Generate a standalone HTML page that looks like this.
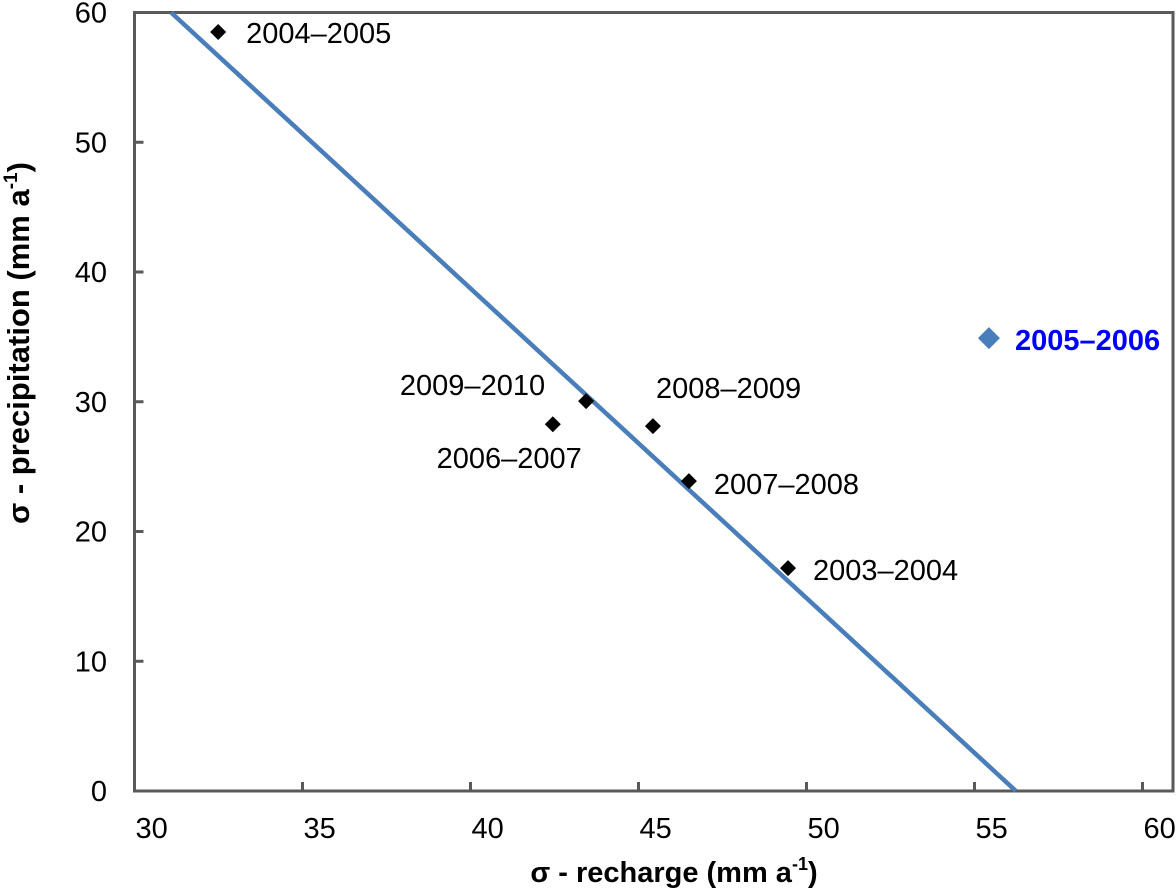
<!DOCTYPE html>
<html><head><meta charset="utf-8"><style>
html,body{margin:0;padding:0;background:#fff}
svg text{font-family:"Liberation Sans",Arial,sans-serif}
</style></head><body>
<svg id="chart" width="1176" height="889" xmlns="http://www.w3.org/2000/svg"></svg>
<script>
const xTicks=[30,35,40,45,50,55,60];
const yTicks=[0,10,20,30,40,50,60];
const labels=["2004–2005","2009–2010","2006–2007","2008–2009","2007–2008","2003–2004","2005–2006"];
const xVals=[32.49,43.44,42.45,45.43,46.5,49.45,55.43];
const yVals=[58.5,30.05,28.27,28.12,23.88,17.18,34.9];
const fitX=[31.09,56.23];
const fitY=[60,0];
// label placement offsets (style, not data)
const lblDx=[28,-41,29,3,25,25,26];
const lblDy=[11,-6,44,-28,13,12,12];
const lblAnchor=["start","end","end","start","start","start","start"];

const NS="http://www.w3.org/2000/svg";
const svg=document.getElementById('chart');
const L=134.5,R=1173,T=12.5,B=791;
const FS=29;
const X=v=>L+(v-30)*33.6;
const Y=v=>B-v*(B-T)/60;
function mk(tag,attrs,parent){const e=document.createElementNS(NS,tag);for(const k in attrs)e.setAttribute(k,attrs[k]);(parent||svg).appendChild(e);return e;}

const frame=mk('rect',{x:L,y:T,width:R-L,height:B-T,fill:'none',stroke:'#595959','stroke-width':3});



xTicks.forEach(t=>{
  const ln=mk('line',{x1:X(t),x2:X(t),y1:B,y2:B-9,stroke:'#595959','stroke-width':3});
  
  
  const tx=mk('text',{x:X(t)+1,y:B+47,'font-size':FS,fill:'#000'});
  tx.textContent=t;
  
  
});
yTicks.forEach(t=>{
  const ln=mk('line',{x1:L,x2:L+9,y1:Y(t),y2:Y(t),stroke:'#595959','stroke-width':3});
  
  
  const tx=mk('text',{x:107,y:Y(t)+10,'font-size':FS,'text-anchor':'end',fill:'#000'});
  tx.textContent=t;
  
  
});

const fit=mk('line',{x1:X(fitX[0]),y1:Y(fitY[0]),x2:X(fitX[1]),y2:Y(fitY[1]),stroke:'#4a7ebb','stroke-width':4.5});



xVals.forEach((xv,i)=>{
  const cx=X(xv),cy=Y(yVals[i]);
  const out=i===6;
  const s=out?11:8;
  const p=mk('polygon',{points:`${cx},${cy-s} ${cx+s},${cy} ${cx},${cy+s} ${cx-s},${cy}`,fill:out?'#4a7ebb':'#000'});
  
  
  const tx=mk('text',{x:cx+lblDx[i],y:cy+lblDy[i],'font-size':FS,'text-anchor':lblAnchor[i],fill:out?'#0000ff':'#000','font-weight':out?'bold':'normal'});
  tx.textContent=labels[i];
  
  
});

const xt=mk('text',{x:674,y:882,'font-size':FS,'font-weight':'bold','text-anchor':'middle'});
xt.innerHTML='σ - recharge (mm a<tspan font-size="18" dy="-12">-1</tspan><tspan dy="12">)</tspan>';


const yt=mk('text',{x:0,y:0,'font-size':31,'font-weight':'bold','text-anchor':'middle',transform:'translate(29,343) rotate(-90)'});
yt.innerHTML='σ - precipitation (mm a<tspan font-size="19" dy="-12">-1</tspan><tspan dy="12">)</tspan>';


</script>
</body></html>
